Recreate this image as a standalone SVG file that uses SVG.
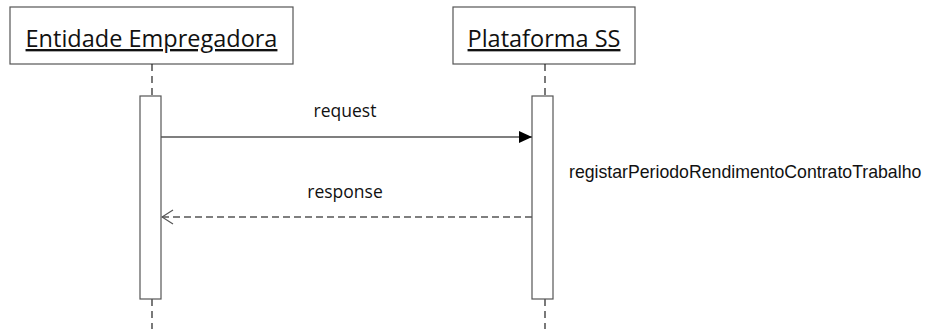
<svg xmlns="http://www.w3.org/2000/svg" width="925" height="329" viewBox="0 0 925 329">
<defs>
<style>
.box{fill:#fff;stroke:#555;stroke-width:1.2}
.title{font-family:"Open Sans","Noto Sans",sans-serif;font-size:23.5px;fill:#111;text-anchor:middle;text-decoration:underline}
.life{stroke:#222;stroke-width:1.2;stroke-dasharray:7,5;fill:none}
.act{fill:#fff;stroke:#555;stroke-width:1.2}
.lbl{font-family:"Open Sans","Noto Sans",sans-serif;font-size:17.5px;fill:#111;text-anchor:middle}
.msg{stroke:#555;stroke-width:1.4;fill:none}
</style>
<marker id="solid" markerWidth="14" markerHeight="12" refX="13" refY="6" orient="auto" markerUnits="userSpaceOnUse">
<path d="M0,0 L13,6 L0,12 Z" fill="#000"/>
</marker>
<marker id="open" markerWidth="14" markerHeight="16" refX="1" refY="8" orient="auto" markerUnits="userSpaceOnUse">
<path d="M12,1 L1,8 L12,15" fill="none" stroke="#555" stroke-width="1.2"/>
</marker>
</defs>
<g id="lifeline-entidade">
<rect class="box" x="10" y="7" width="283" height="57"/>
<text class="title" x="151.5" y="47">Entidade Empregadora</text>
<line class="life" x1="152" y1="64" x2="152" y2="96"/>
<line class="life" x1="152" y1="299" x2="152" y2="329"/>
<rect class="act" x="140" y="96" width="21" height="203"/>
</g>
<g id="lifeline-plataforma">
<rect class="box" x="453" y="7" width="182" height="57"/>
<text class="title" x="544" y="47">Plataforma SS</text>
<line class="life" x1="545" y1="64" x2="545" y2="96"/>
<line class="life" x1="545" y1="299" x2="545" y2="329"/>
<rect class="act" x="532" y="96" width="21" height="203"/>
</g>
<g id="connectors">
<line class="msg" x1="161" y1="137" x2="532" y2="137" marker-end="url(#solid)"/>
<text class="lbl" x="345" y="117">request</text>
<line class="msg" x1="162" y1="217" x2="532" y2="217" stroke-dasharray="7,4" marker-start="url(#open)"/>
<text class="lbl" x="345" y="198">response</text>
</g>
<text x="569" y="178" font-family="'Liberation Sans',Arial,sans-serif" font-size="17.7" fill="#111">registarPeriodoRendimentoContratoTrabalho</text>
</svg>
